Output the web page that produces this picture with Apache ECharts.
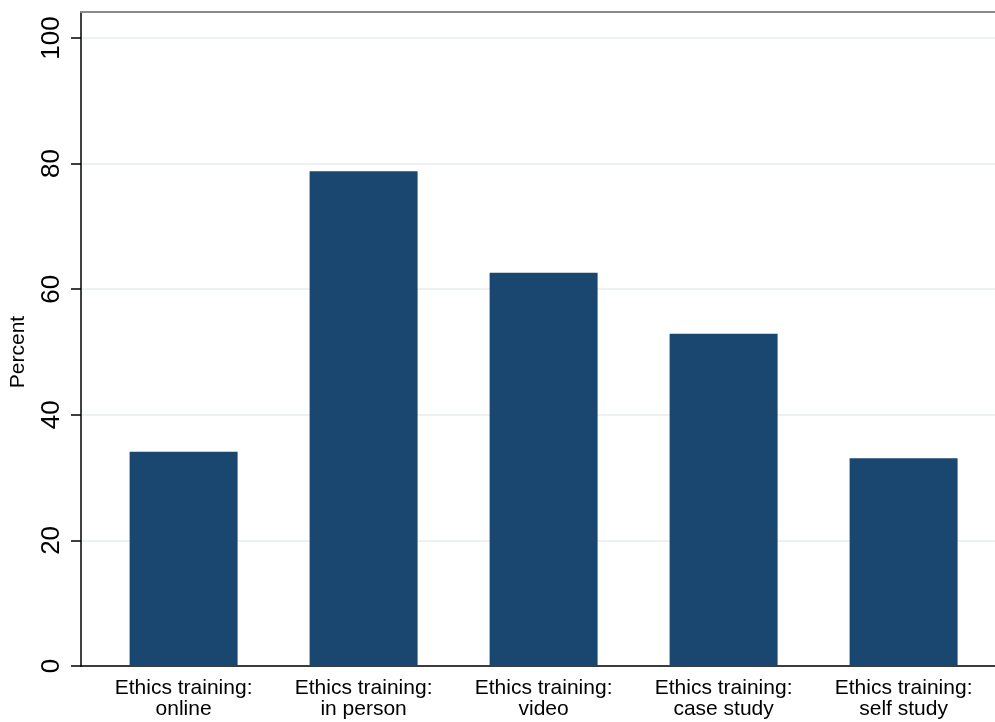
<!DOCTYPE html>
<html>
<head>
<meta charset="utf-8">
<script src="https://cdn.jsdelivr.net/npm/echarts@6/dist/echarts.min.js"></script>
<style>html,body{margin:0;padding:0;background:#fff}#c{width:995px;height:722px}</style>
</head>
<body>
<div id="c"></div>
<script>
const categories = ['Ethics training:\nonline', 'Ethics training:\nin person', 'Ethics training:\nvideo', 'Ethics training:\ncase study', 'Ethics training:\nself study'];
const percentValues = [34.1, 78.8, 62.6, 52.9, 33.1];
const yTicks = [0, 20, 40, 60, 80, 100];
const catPositions = [0, 1, 2, 3, 4];

const FONT = 'Liberation Sans, Arial, Helvetica, sans-serif';
const xMin = -0.570, xMax = -0.570 + 914 / 180;

const chart = echarts.init(document.getElementById('c'), null, {renderer: 'canvas'});
chart.setOption({
  animation: false,
  backgroundColor: '#ffffff',
  grid: {left: 81, right: 0, top: 12, bottom: 56, containLabel: false},
  xAxis: [{
    type: 'value', min: xMin, max: xMax,
    axisLine: {show: true, onZero: false, lineStyle: {color: '#000', width: 1.5}},
    axisTick: {show: false},
    splitLine: {show: false},
    axisLabel: {
      customValues: catPositions,
      formatter: v => categories[Math.round(v)],
      fontFamily: FONT, fontSize: 21, color: '#000', lineHeight: 21, margin: 12, align: 'center'
    }
  }, {
    type: 'value', position: 'top', min: xMin, max: xMax,
    axisLine: {show: true, onZero: false, lineStyle: {color: '#8a8a8a', width: 2}},
    axisTick: {show: false}, axisLabel: {show: false}, splitLine: {show: false}
  }],
  yAxis: {
    type: 'value', min: 0, max: 104.14,
    name: 'Percent', nameLocation: 'middle', nameGap: 52,
    nameTextStyle: {fontFamily: FONT, fontSize: 21, color: '#000', padding: [0, 26, 0, 0]},
    axisLine: {show: true, onZero: false, lineStyle: {color: '#000', width: 1.5}},
    axisTick: {show: true, length: 10, customValues: yTicks, lineStyle: {color: '#000', width: 1.5}},
    axisLabel: {customValues: yTicks, rotate: 90, fontFamily: FONT, fontSize: 26, color: '#000', margin: 16},
    splitLine: {show: true, lineStyle: {color: '#e6eef1', width: 1.5}}
  },
  series: [{
    type: 'bar',
    barWidth: 108,
    itemStyle: {color: '#1a476f'},
    data: percentValues.map((v, i) => [catPositions[i], v])
  }]
});
</script>
</body>
</html>
